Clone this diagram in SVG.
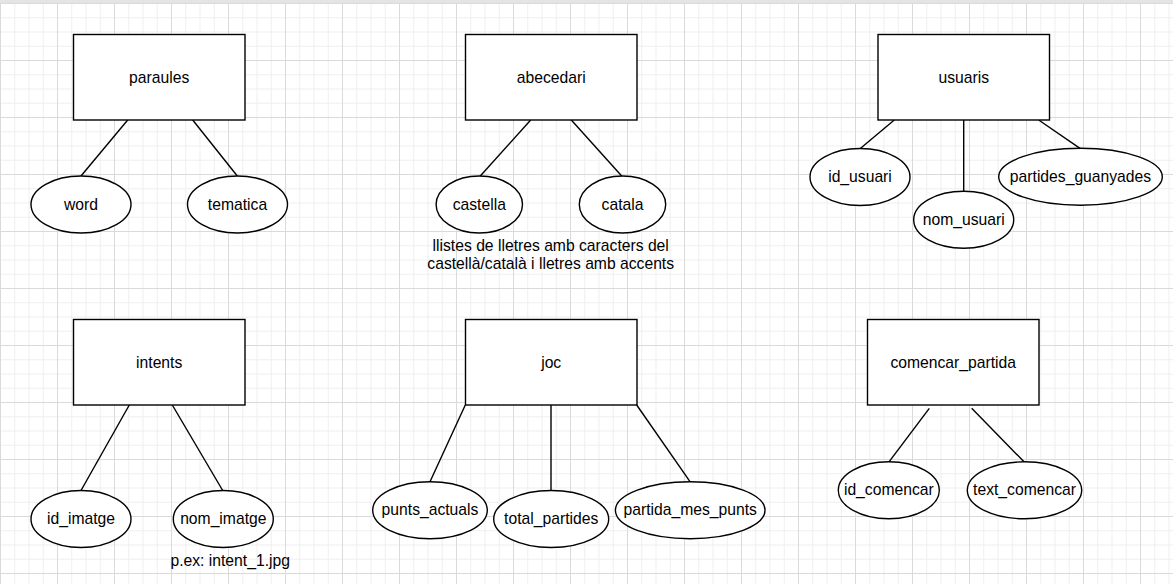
<svg xmlns="http://www.w3.org/2000/svg" width="1173" height="584" viewBox="0 0 1173 584">
<style>
.box{fill:#ffffff;stroke:#000000;stroke-width:1.4}
.conn line{stroke:#000000;stroke-width:1.4;fill:none}
text{font-family:"Liberation Sans",Arial,sans-serif;font-size:15.7px;fill:#000000;text-anchor:middle}
</style>
<defs>
<pattern id="grid" patternUnits="userSpaceOnUse" x="0" y="3" width="57" height="57">
<rect x="0" y="0" width="57" height="57" fill="#ffffff"/>
<rect x="14.25" y="0" width="1" height="57" fill="#f0f0f0"/>
<rect x="28.5" y="0" width="1" height="57" fill="#f0f0f0"/>
<rect x="42.75" y="0" width="1" height="57" fill="#f0f0f0"/>
<rect x="0" y="14.25" width="57" height="1" fill="#f0f0f0"/>
<rect x="0" y="28.5" width="57" height="1" fill="#f0f0f0"/>
<rect x="0" y="42.75" width="57" height="1" fill="#f0f0f0"/>
<rect x="0" y="0" width="1" height="57" fill="#dadada"/>
<rect x="0" y="0" width="57" height="1" fill="#dadada"/>
</pattern>
</defs>
<rect x="0" y="0" width="1173" height="584" fill="url(#grid)"/>
<rect x="0" y="0" width="1173" height="3" fill="#e4e4e4"/>

<g id="connectors" class="conn">
<line x1="127.7" y1="120" x2="81" y2="176"/>
<line x1="192.7" y1="120" x2="237.3" y2="176"/>
<line x1="530.7" y1="120" x2="480.3" y2="176"/>
<line x1="571.3" y1="120" x2="621.7" y2="176"/>
<line x1="894.3" y1="120" x2="860.3" y2="148.5"/>
<line x1="963.7" y1="120" x2="963.7" y2="191.2"/>
<line x1="1038.7" y1="120" x2="1080" y2="148.3"/>
<line x1="129.3" y1="405" x2="81" y2="490.5"/>
<line x1="172.3" y1="405" x2="222.7" y2="490.5"/>
<line x1="465.3" y1="405" x2="430" y2="481.7"/>
<line x1="551" y1="405" x2="551" y2="490.5"/>
<line x1="636.7" y1="405" x2="690" y2="481.7"/>
<line x1="929.3" y1="408.3" x2="889" y2="461.8"/>
<line x1="971.7" y1="408.3" x2="1024" y2="461.8"/>
</g>

<g id="paraules"><rect class="box" x="73.5" y="34.5" width="171.5" height="85.5"/><text x="159.2" y="82.5">paraules</text></g>
<g id="abecedari"><rect class="box" x="465.5" y="34.5" width="171.5" height="85.5"/><text x="551.2" y="82.5">abecedari</text></g>
<g id="usuaris"><rect class="box" x="878" y="34.5" width="171.5" height="85.5"/><text x="963.7" y="82.5">usuaris</text></g>
<g id="intents"><rect class="box" x="73.5" y="319.5" width="171.5" height="85.5"/><text x="159.2" y="367.5">intents</text></g>
<g id="joc"><rect class="box" x="465.5" y="319.5" width="171.5" height="85.5"/><text x="551.2" y="367.5">joc</text></g>
<g id="comencar_partida"><rect class="box" x="867.5" y="319.5" width="171.5" height="85.5"/><text x="953.2" y="367.5">comencar_partida</text></g>

<g id="word"><ellipse class="box" cx="81" cy="204.5" rx="50" ry="28.5"/><text x="81" y="209.5">word</text></g>
<g id="tematica"><ellipse class="box" cx="237.5" cy="204.5" rx="50" ry="28.5"/><text x="237.5" y="209.5">tematica</text></g>
<g id="castella"><ellipse class="box" cx="479.3" cy="204.5" rx="43.2" ry="28.5"/><text x="479.3" y="209.5">castella</text></g>
<g id="catala"><ellipse class="box" cx="622.5" cy="204.5" rx="43.2" ry="28.5"/><text x="622.5" y="209.5">catala</text></g>
<g id="id_usuari"><ellipse class="box" cx="860" cy="177" rx="50" ry="28.5"/><text x="860" y="182">id_usuari</text></g>
<g id="nom_usuari"><ellipse class="box" cx="963.7" cy="219.7" rx="50" ry="28.5"/><text x="963.7" y="224.7">nom_usuari</text></g>
<g id="partides_guanyades"><ellipse class="box" cx="1080.5" cy="176.8" rx="81.8" ry="28.5"/><text x="1080.5" y="181.8">partides_guanyades</text></g>
<g id="id_imatge"><ellipse class="box" cx="81" cy="519" rx="50" ry="28.5"/><text x="81" y="524">id_imatge</text></g>
<g id="nom_imatge"><ellipse class="box" cx="223.3" cy="519" rx="50" ry="28.5"/><text x="223.3" y="524">nom_imatge</text></g>
<g id="punts_actuals"><ellipse class="box" cx="430" cy="510.2" rx="57.3" ry="28.5"/><text x="430" y="515.2">punts_actuals</text></g>
<g id="total_partides"><ellipse class="box" cx="551.2" cy="519" rx="57.5" ry="28.5"/><text x="551.2" y="524">total_partides</text></g>
<g id="partida_mes_punts"><ellipse class="box" cx="690.2" cy="510.2" rx="74.8" ry="28.5"/><text x="690.2" y="515.2">partida_mes_punts</text></g>
<g id="id_comencar"><ellipse class="box" cx="888.8" cy="490.3" rx="50.5" ry="28.5"/><text x="888.8" y="495.3">id_comencar</text></g>
<g id="text_comencar"><ellipse class="box" cx="1024.5" cy="490.3" rx="57.2" ry="28.5"/><text x="1024.5" y="495.3">text_comencar</text></g>

<g id="nota_abecedari"><text x="550.7" y="251">llistes de lletres amb caracters del</text><text x="550.7" y="269">castellà/català i lletres amb accents</text></g>
<g id="nota_intents"><text x="230.2" y="566">p.ex: intent_1.jpg</text></g>
</svg>
